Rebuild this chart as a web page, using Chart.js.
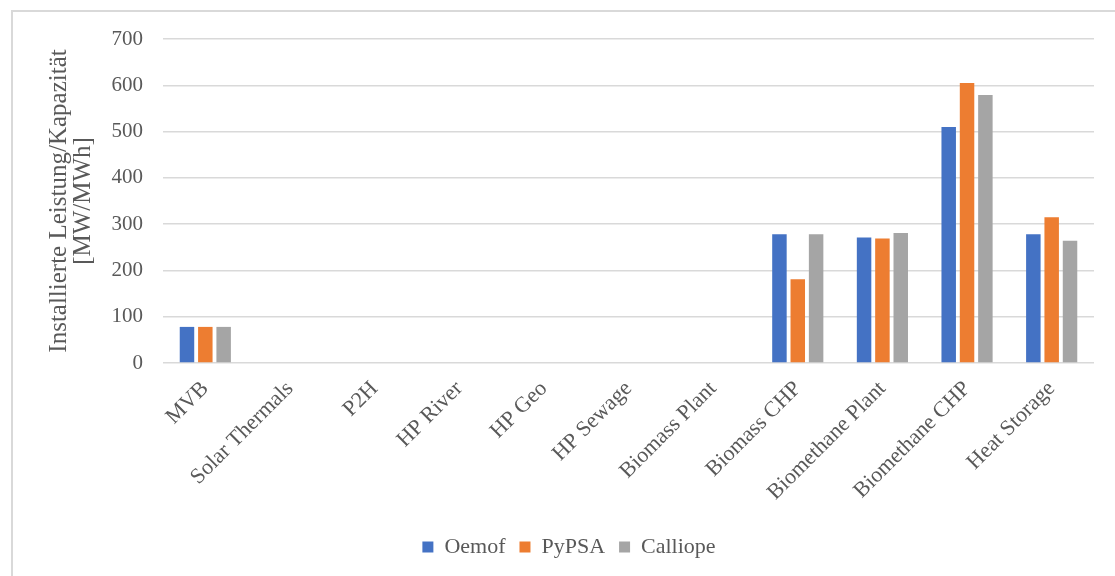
<!DOCTYPE html>
<html>
<head>
<meta charset="utf-8">
<script src="https://cdn.jsdelivr.net/npm/chart.js@4/dist/chart.umd.min.js"></script>
<style>
  html, body { margin: 0; padding: 0; background: #ffffff; }
  #frame {
    position: absolute; left: 11px; top: 10px; width: 1200px; height: 700px;
    border-left: 2px solid #d9d9d9; border-top: 2px solid #d9d9d9;
  }
  #wrap { position: absolute; left: 0; top: 0; width: 1115px; height: 576px; }
</style>
</head>
<body>
<div id="frame"></div>
<div id="wrap"><canvas id="c" width="1115" height="576"></canvas></div>
<script>
const categories = ['MVB', 'Solar Thermals', 'P2H', 'HP River', 'HP Geo', 'HP Sewage',
  'Biomass Plant', 'Biomass CHP', 'Biomethane Plant', 'Biomethane CHP', 'Heat Storage'];
const oemof    = [78, 0, 0, 0, 0, 0, 0, 278, 271, 510, 278];
const pypsa    = [78, 0, 0, 0, 0, 0, 0, 181, 269, 605, 315];
const calliope = [78, 0, 0, 0, 0, 0, 0, 278, 281, 579, 264];
const yTicks   = [0, 100, 200, 300, 400, 500, 600, 700];
const yTitle   = ['Installierte Leistung/Kapazität', '[MW/MWh]'];

const FONT = "'Liberation Serif', 'Times New Roman', serif";
const TXT = '#595959';

Chart.defaults.font.family = FONT;
Chart.defaults.color = TXT;

// Centre the legend on the whole frame rather than on the plot's width.
const legendShift = {
  id: 'legendShift',
  afterLayout(chart) {
    const lg = chart.legend;
    if (lg) { lg.left += 22; lg.right += 22; }
  }
};

new Chart(document.getElementById('c'), {
  type: 'bar',
  data: {
    labels: categories,
    datasets: [
      { label: 'Oemof', data: oemof, backgroundColor: '#4472C4' },
      { label: 'PyPSA', data: pypsa, backgroundColor: '#ED7D31' },
      { label: 'Calliope', data: calliope, backgroundColor: '#A5A5A5' }
    ]
  },
  plugins: [legendShift],
  options: {
    responsive: false,
    animation: false,
    devicePixelRatio: 1,
    datasets: { bar: { categoryPercentage: 0.65, barPercentage: 0.79 } },
    layout: { padding: { left: 0, right: 21, top: 39, bottom: 8 } },
    plugins: {
      tooltip: { enabled: false },
      legend: {
        position: 'bottom',
        labels: {
          font: { size: 22, family: FONT },
          color: TXT,
          boxWidth: 11,
          boxHeight: 11,
          padding: 14
        }
      }
    },
    scales: {
      x: {
        grid: { display: false },
        border: { display: false },
        ticks: {
          minRotation: 45, maxRotation: 45,
          font: { size: 22, family: FONT },
          color: TXT,
          padding: 5
        },
        afterFit(scale) { scale.height = 159; }
      },
      y: {
        min: 0, max: 700,
        afterBuildTicks(scale) { scale.ticks = yTicks.map(v => ({ value: v })); },
        grid: { color: '#d9d9d9', lineWidth: 1.5, drawTicks: false },
        border: { display: false },
        ticks: {
          font: { size: 21, family: FONT },
          color: TXT,
          padding: 20
        },
        title: {
          display: true,
          text: yTitle,
          font: { size: 25, family: FONT, lineHeight: 0.96 },
          color: TXT,
          padding: { top: 47, bottom: 0 }
        },
        afterFit(scale) { scale.width = 163; }
      }
    }
  }
});
</script>
</body>
</html>
